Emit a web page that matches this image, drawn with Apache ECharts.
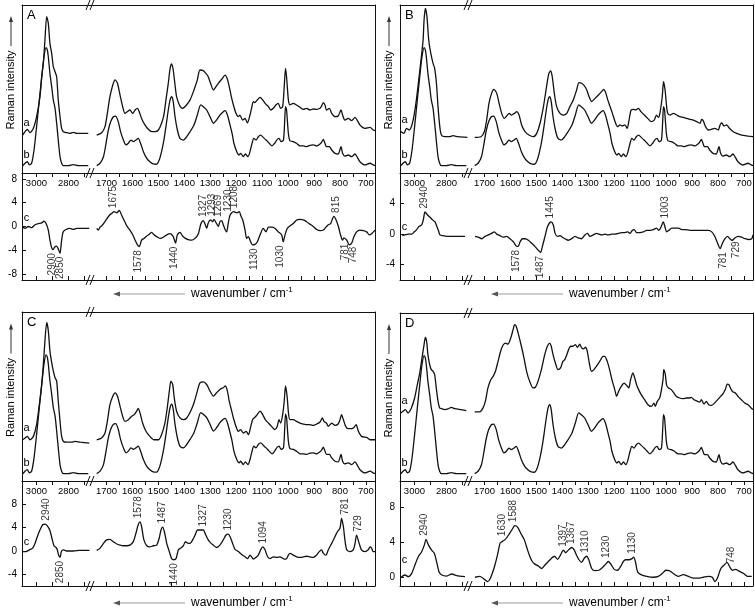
<!DOCTYPE html>
<html><head><meta charset="utf-8">
<script src="https://cdn.jsdelivr.net/npm/echarts@6/dist/echarts.min.js"></script>
<style>html,body{margin:0;padding:0;background:#fff}#c{width:755px;height:610px}</style>
</head><body><div id="c"></div>
<script>
// ---------- axis ticks / labels ----------
const highRange = [2660, 3090];
const lowRange = [665, 1760];
const highTicks = [3000, 2900, 2800, 2700];
const highLabels = [3000, 2800];
const lowTicks = [1700,1650,1600,1550,1500,1450,1400,1350,1300,1250,1200,1150,1100,1050,1000,950,900,850,800,750,700];
const lowLabels = [1700,1600,1500,1400,1300,1200,1100,1000,900,800,700];
const diffRangeA = [-9, 9], diffRangeB = [-6, 8], diffRangeC = [-6, 12], diffRangeD = [-1, 11];
const diffTicksA = [-8,-4,0,4,8], diffTicksB = [-4,0,4], diffTicksC = [-4,0,4,8], diffTicksD = [0,4,8];

// ---------- reference spectrum b (same in all panels) ----------
const b_high = [[3086,4.2],[3071,5.8],[3057,6.7],[3044,4.8],[3030,5.8],[3015,13.7],[2999,27.6],[2982,43.5],[2967,57.3],[2953,69.2],[2940,74.6],[2932,73.2],[2926,69.2],[2916,59.3],[2905,51.4],[2895,43.5],[2884,38.5],[2874,29.6],[2864,19.6],[2853,9.7],[2843,5.8],[2832,4.4],[2801,4.4],[2770,5.0],[2739,4.4],[2677,4.4]];
const b_low = [[1738,4.4],[1725,5.8],[1712,9.7],[1702,17.7],[1693,25.6],[1684,30.6],[1674,33.5],[1665,33.9],[1655,30.6],[1646,24.6],[1635,19.6],[1625,16.7],[1616,17.7],[1606,19.6],[1597,18.7],[1587,19.6],[1578,20.6],[1569,17.7],[1558,12.7],[1545,8.7],[1533,6.7],[1520,5.4],[1507,5.2],[1497,7.7],[1488,12.7],[1479,19.6],[1471,27.6],[1462,37.5],[1455,43.5],[1449,45.4],[1443,42.5],[1436,33.5],[1427,25.6],[1417,20.6],[1404,19.6],[1391,21.6],[1378,24.6],[1363,28.6],[1350,34.5],[1337,40.5],[1327,39.5],[1314,37.5],[1301,33.5],[1288,29.6],[1276,31.5],[1263,34.5],[1250,36.5],[1243,37.1],[1234,34.5],[1224,28.6],[1216,23.6],[1209,17.7],[1198,12.7],[1189,10.7],[1183,11.7],[1173,9.7],[1165,11.3],[1155,9.7],[1147,12.7],[1139,17.7],[1132,20.6],[1124,19.6],[1115,21.6],[1106,22.6],[1096,21.2],[1085,19.6],[1073,17.7],[1062,16.1],[1052,17.7],[1044,19.6],[1035,20.6],[1027,18.7],[1018,19.6],[1013,31.5],[1010,39.5],[1006,37.5],[999,23.6],[993,19.2],[980,18.7],[968,17.7],[954,16.1],[941,16.1],[929,15.7],[916,16.5],[903,16.7],[890,16.1],[877,17.3],[871,18.3],[864,20.0],[858,17.7],[852,15.7],[841,15.7],[832,13.7],[819,11.7],[807,11.3],[796,15.7],[790,11.7],[781,10.1],[768,10.7],[755,9.7],[742,11.3],[733,9.3],[723,6.7],[704,4.8],[684,5.8],[672,4.8],[665,4.4]];

// ---------- panel A ----------
const A_a_high = [[3086,22.6],[3071,24.6],[3057,26.0],[3040,24.0],[3019,26.6],[2999,33.5],[2978,45.4],[2967,57.3],[2957,65.3],[2947,79.2],[2936,93.1],[2926,89.1],[2916,77.2],[2905,71.2],[2895,63.3],[2884,60.3],[2874,57.3],[2864,43.5],[2853,33.5],[2843,26.6],[2832,24.6],[2812,24.0],[2791,23.6],[2770,24.2],[2749,23.6],[2677,23.6]];
const A_a_low = [[1738,22.6],[1719,24.0],[1706,27.6],[1697,35.5],[1687,45.4],[1676,52.4],[1667,55.4],[1658,53.4],[1648,46.4],[1638,39.5],[1629,35.5],[1620,36.5],[1610,37.5],[1599,35.5],[1590,37.5],[1581,38.5],[1574,36.5],[1565,32.5],[1552,28.6],[1539,26.0],[1526,24.6],[1513,24.6],[1500,25.6],[1488,29.6],[1479,34.5],[1471,43.5],[1462,53.4],[1455,62.3],[1449,64.9],[1443,61.3],[1436,52.4],[1430,45.4],[1419,40.5],[1408,38.5],[1395,39.9],[1378,43.5],[1363,49.4],[1350,55.4],[1340,61.3],[1327,60.9],[1317,59.3],[1308,57.3],[1299,53.4],[1288,49.4],[1278,51.4],[1269,53.4],[1256,55.8],[1243,58.3],[1234,55.8],[1227,51.4],[1219,45.4],[1211,40.5],[1201,35.5],[1192,33.5],[1186,34.5],[1175,31.5],[1166,32.5],[1157,29.8],[1147,34.5],[1141,38.5],[1134,42.5],[1128,41.9],[1119,43.5],[1108,45.0],[1098,43.5],[1087,41.1],[1076,39.5],[1067,37.5],[1057,38.5],[1047,40.5],[1038,41.5],[1029,38.5],[1021,39.5],[1015,51.4],[1010,62.3],[1006,57.3],[999,43.5],[993,40.5],[980,41.5],[968,40.5],[954,39.1],[941,37.9],[929,38.5],[916,37.5],[903,38.1],[890,37.9],[877,38.5],[871,39.9],[864,41.9],[858,40.5],[852,37.5],[841,38.5],[832,35.5],[819,33.5],[807,33.9],[796,37.5],[790,34.5],[781,31.5],[768,32.5],[755,31.2],[742,33.1],[733,31.2],[723,28.6],[704,26.6],[684,27.2],[672,25.6],[665,25.2]];
const A_c_high = [[3086,-0.1],[3071,-0.3],[3051,0.0],[3030,-0.2],[3009,0.3],[2988,0.5],[2967,0.6],[2953,0.9],[2940,0.5],[2926,-0.6],[2916,-2.3],[2905,-3.6],[2897,-3.9],[2887,-3.5],[2875,-3.3],[2862,-3.9],[2853,-4.5],[2843,-2.3],[2833,-0.9],[2816,-0.5],[2791,-0.3],[2770,-0.5],[2749,-0.3],[2671,-0.3]];
const A_c_low = [[1738,-0.3],[1732,-0.6],[1725,-0.1],[1715,0.3],[1702,1.1],[1689,1.9],[1680,2.2],[1671,2.5],[1661,2.3],[1651,2.7],[1642,1.9],[1633,1.1],[1622,0.1],[1610,-0.6],[1599,-1.4],[1590,-2.3],[1581,-3.1],[1574,-3.4],[1565,-2.3],[1556,-2.0],[1545,-1.6],[1535,-1.3],[1526,-1.0],[1517,-1.4],[1507,-1.7],[1494,-2.0],[1481,-1.8],[1468,-1.4],[1455,-1.2],[1443,-1.7],[1434,-2.8],[1427,-1.4],[1417,-1.0],[1407,-1.6],[1396,-2.0],[1385,-2.2],[1372,-2.3],[1359,-2.0],[1346,-1.2],[1336,0.5],[1327,1.0],[1321,0.5],[1314,-0.3],[1308,0.6],[1299,1.1],[1291,0.8],[1286,1.2],[1276,0.5],[1269,0.0],[1263,0.8],[1256,1.0],[1250,0.3],[1243,-0.5],[1237,-0.9],[1231,0.5],[1224,1.9],[1211,2.5],[1198,2.3],[1188,2.5],[1183,1.9],[1175,1.1],[1166,-0.6],[1160,-2.0],[1153,-1.7],[1147,-2.3],[1137,-3.1],[1128,-3.0],[1119,-2.6],[1108,-1.4],[1096,-0.3],[1085,-0.9],[1076,-0.1],[1064,-0.1],[1051,-0.3],[1038,-0.9],[1025,-1.4],[1019,-2.6],[1012,-1.4],[1003,-0.3],[993,0.1],[980,0.5],[967,1.1],[954,1.2],[941,1.1],[929,0.8],[916,0.4],[903,0.0],[890,-0.5],[877,-0.7],[864,-0.6],[854,-0.1],[845,0.3],[836,0.5],[828,1.4],[823,1.7],[815,1.1],[806,0.0],[798,-1.4],[790,-2.3],[785,-1.9],[774,-2.3],[764,-3.1],[755,-2.8],[746,-1.7],[736,-0.9],[723,-0.6],[710,-0.7],[697,-0.9],[687,-1.4],[678,-1.2],[665,-0.6]];
const A_peaks_up = [1675,1327,1293,1269,1230,1208,815];
const A_peaks_down = [2900,2850,1578,1440,1130,1030,781,748];

// ---------- panel B ----------
const B_a_high = [[3086,24.6],[3065,23.6],[3050,26.6],[3033,25.6],[3019,27.6],[3002,34.5],[2988,43.5],[2971,57.3],[2957,69.2],[2946,79.2],[2940,91.1],[2932,98.0],[2922,93.1],[2911,79.2],[2898,71.2],[2884,65.3],[2874,62.3],[2863,53.4],[2853,39.5],[2842,27.6],[2832,22.6],[2811,21.6],[2780,21.6],[2759,22.2],[2728,21.6],[2670,21.2]];
const B_a_low = [[1738,21.2],[1714,21.6],[1701,24.6],[1692,31.5],[1683,41.5],[1673,47.4],[1664,49.8],[1653,47.4],[1644,41.5],[1634,35.5],[1624,32.5],[1615,33.9],[1605,35.5],[1596,34.5],[1585,35.5],[1576,36.5],[1567,34.5],[1557,28.6],[1544,24.6],[1529,22.6],[1512,21.6],[1499,23.6],[1486,29.6],[1473,39.5],[1461,51.4],[1452,59.3],[1445,60.7],[1439,57.3],[1431,47.4],[1422,39.5],[1409,35.5],[1396,34.5],[1383,35.5],[1371,39.5],[1358,43.5],[1345,49.4],[1336,53.8],[1326,53.4],[1315,51.8],[1306,49.4],[1297,45.4],[1287,42.5],[1274,44.4],[1261,46.4],[1249,48.4],[1241,49.8],[1233,47.8],[1225,43.5],[1216,39.5],[1207,35.5],[1197,30.6],[1187,27.6],[1178,28.6],[1169,28.0],[1159,28.6],[1150,26.6],[1143,31.5],[1135,37.5],[1126,37.9],[1117,37.5],[1107,38.5],[1097,36.5],[1084,34.5],[1071,32.5],[1058,30.6],[1046,31.5],[1037,34.5],[1030,33.1],[1024,35.5],[1015,45.4],[1010,54.4],[1004,49.4],[998,39.5],[994,35.5],[985,34.5],[972,35.5],[959,34.5],[947,33.5],[934,33.1],[921,32.5],[908,31.9],[895,31.5],[882,30.6],[869,29.6],[863,31.9],[857,31.2],[848,27.6],[837,25.6],[825,26.0],[812,26.6],[799,25.6],[792,28.6],[786,30.0],[777,28.0],[767,28.6],[756,26.6],[741,24.6],[728,23.6],[709,22.6],[683,22.0],[665,21.6]];
const B_c_high = [[3075,-0.2],[3059,-0.1],[3038,0.0],[3017,0.0],[3001,0.3],[2986,0.6],[2972,1.0],[2955,1.2],[2945,1.85],[2934,2.9],[2918,2.5],[2903,2.2],[2889,1.9],[2872,1.6],[2862,1.1],[2851,0.5],[2841,-0.1],[2820,-0.2],[2789,-0.3],[2727,-0.3],[2685,-0.3]];
const B_c_low = [[1737,-0.3],[1724,-0.4],[1711,-0.6],[1698,-0.3],[1685,-0.1],[1673,0.1],[1662,0.3],[1653,0.0],[1640,-0.2],[1628,-0.4],[1615,-0.3],[1602,-0.6],[1589,-1.0],[1576,-1.6],[1570,-1.6],[1563,-1.0],[1554,-0.6],[1544,-0.6],[1531,-0.8],[1518,-1.2],[1506,-1.6],[1493,-2.1],[1484,-2.4],[1477,-1.6],[1467,-0.3],[1457,1.0],[1444,1.6],[1435,1.2],[1428,0.1],[1418,-0.3],[1409,-0.2],[1400,-0.4],[1390,-0.6],[1377,-0.8],[1364,-0.6],[1351,-0.3],[1339,-0.5],[1326,-0.6],[1313,-0.1],[1303,0.1],[1294,-0.3],[1281,-0.1],[1268,0.1],[1259,0.0],[1249,-0.1],[1236,0.0],[1223,-0.1],[1210,0.0],[1197,0.0],[1184,0.1],[1171,0.2],[1159,0.2],[1148,0.3],[1139,0.1],[1130,0.5],[1123,0.6],[1114,0.2],[1101,0.2],[1088,0.3],[1075,0.5],[1062,0.5],[1049,0.6],[1037,0.8],[1028,0.5],[1020,0.9],[1011,1.6],[1004,0.9],[998,0.3],[989,0.5],[979,0.8],[966,0.8],[953,0.8],[940,0.6],[927,0.6],[908,0.5],[889,0.5],[869,0.5],[850,0.5],[837,0.5],[824,0.3],[812,-0.3],[799,-1.4],[792,-1.9],[783,-1.2],[773,-0.6],[763,-0.3],[754,-0.6],[745,-0.8],[735,-0.5],[722,-0.3],[709,-0.4],[696,-0.6],[683,-0.7],[670,-0.6],[665,-0.1]];
const B_peaks_up = [2940,1445,1003];
const B_peaks_down = [1578,1487,781,729];

// ---------- panel C ----------
const C_a_high = [[3086,24.4],[3071,25.4],[3057,26.4],[3040,24.4],[3019,26.4],[2999,33.3],[2982,45.2],[2967,57.1],[2957,69.0],[2947,82.9],[2936,93.8],[2926,88.9],[2916,77.0],[2905,70.0],[2895,65.1],[2884,61.1],[2874,59.1],[2864,47.2],[2853,35.3],[2843,26.4],[2832,23.4],[2812,23.0],[2781,23.0],[2760,23.4],[2729,23.0],[2671,22.4]];
const C_a_low = [[1738,24.4],[1719,25.4],[1706,28.4],[1697,35.3],[1687,45.2],[1676,50.2],[1667,52.2],[1658,50.2],[1648,44.2],[1638,38.3],[1629,35.3],[1616,36.3],[1603,38.3],[1593,39.3],[1584,41.3],[1578,42.9],[1571,40.3],[1561,34.3],[1548,29.4],[1533,26.4],[1517,24.4],[1500,24.4],[1488,27.4],[1475,34.3],[1466,43.3],[1458,53.2],[1452,59.1],[1445,57.1],[1439,49.2],[1430,41.3],[1417,37.3],[1404,36.3],[1391,37.3],[1376,41.3],[1363,46.2],[1350,53.2],[1340,58.1],[1327,58.7],[1314,57.1],[1301,53.2],[1288,50.2],[1276,52.2],[1263,54.2],[1250,55.2],[1242,56.2],[1234,53.2],[1227,47.2],[1219,42.3],[1211,37.3],[1201,32.3],[1192,29.4],[1183,30.4],[1173,28.4],[1162,29.4],[1153,27.4],[1144,32.3],[1137,36.3],[1128,37.7],[1119,39.3],[1108,41.3],[1098,39.3],[1088,36.3],[1076,34.3],[1064,32.3],[1051,30.4],[1042,32.3],[1035,36.3],[1029,34.3],[1021,39.3],[1015,47.2],[1010,56.2],[1004,50.2],[998,39.3],[993,36.3],[980,36.3],[968,35.3],[954,34.3],[941,33.7],[929,33.3],[916,33.3],[903,32.9],[890,33.7],[877,34.9],[868,37.3],[862,35.3],[852,34.3],[845,32.3],[832,34.3],[819,32.9],[807,33.7],[800,36.3],[794,39.3],[787,36.3],[778,32.3],[768,31.0],[755,31.0],[746,31.7],[738,33.3],[729,29.4],[717,26.4],[697,25.8],[684,24.4],[665,24.4]];
const C_c_high = [[3086,-0.1],[3065,-0.1],[3044,0.2],[3024,0.5],[3009,1.3],[2994,2.5],[2978,3.6],[2961,4.5],[2947,4.6],[2932,4.3],[2916,3.5],[2901,1.9],[2891,0.9],[2878,0.6],[2870,0.2],[2862,-0.7],[2853,-1.1],[2845,-0.1],[2832,0.2],[2812,0.0],[2770,0.0],[2729,0.1],[2670,0.1]];
const C_c_low = [[1738,0.1],[1725,0.5],[1712,1.3],[1700,1.9],[1687,2.0],[1674,1.6],[1661,1.2],[1648,1.0],[1635,0.9],[1622,0.9],[1610,1.0],[1597,1.6],[1587,3.0],[1578,4.5],[1571,5.0],[1565,4.2],[1556,1.9],[1545,0.9],[1533,0.7],[1520,0.9],[1507,1.0],[1497,2.2],[1490,3.6],[1484,4.1],[1477,3.3],[1468,1.3],[1458,-0.1],[1449,-1.3],[1440,-1.5],[1432,-1.3],[1423,0.2],[1414,0.5],[1404,0.9],[1396,1.6],[1389,1.4],[1378,1.3],[1368,1.9],[1359,2.7],[1349,3.6],[1333,3.6],[1327,3.6],[1317,2.7],[1308,1.9],[1299,1.4],[1288,1.0],[1276,0.6],[1263,1.0],[1250,1.9],[1240,2.7],[1231,2.9],[1224,2.5],[1214,1.3],[1205,0.3],[1192,-0.1],[1179,-0.6],[1166,-1.0],[1156,-1.3],[1147,-0.7],[1141,-1.0],[1134,-1.4],[1124,-1.1],[1115,-0.7],[1106,0.2],[1098,0.7],[1089,0.2],[1080,-0.9],[1070,-1.3],[1057,-1.0],[1044,-1.1],[1031,-1.0],[1019,-1.3],[1008,-1.4],[999,-0.7],[993,-0.4],[980,-0.7],[967,-1.0],[954,-1.1],[941,-1.0],[929,-0.9],[916,-1.0],[903,-1.1],[890,-0.7],[880,-0.1],[871,0.2],[864,-0.4],[854,-0.7],[845,0.2],[832,1.3],[819,2.5],[810,3.3],[800,3.9],[794,5.6],[787,4.2],[781,1.9],[774,0.2],[762,-0.1],[749,0.2],[742,1.3],[736,2.7],[726,1.3],[717,0.2],[704,-0.1],[691,0.2],[684,0.7],[678,0.5],[672,-0.1],[665,-0.1]];
const C_peaks_up = [2940,1578,1487,1327,1230,1094,781,729];
const C_peaks_down = [2850,1440];

// ---------- panel D ----------
const D_a_high = [[3086,40.5],[3071,41.5],[3057,42.5],[3040,40.5],[3019,43.5],[2999,49.4],[2982,57.3],[2967,64.3],[2953,73.2],[2940,81.2],[2932,85.5],[2924,83.1],[2916,75.2],[2905,69.2],[2895,66.3],[2884,65.3],[2874,63.3],[2864,55.4],[2853,47.4],[2843,43.5],[2832,43.1],[2812,42.5],[2791,42.9],[2770,43.8],[2749,43.1],[2677,41.9]];
const D_a_low = [[1738,41.1],[1719,41.1],[1706,43.5],[1697,47.4],[1687,55.4],[1676,60.3],[1667,62.3],[1658,65.3],[1648,71.2],[1638,77.2],[1629,80.8],[1620,82.1],[1610,81.5],[1599,85.1],[1590,90.1],[1584,93.1],[1578,92.1],[1569,87.1],[1558,80.2],[1548,73.2],[1538,65.3],[1526,59.3],[1513,55.4],[1504,55.8],[1494,59.3],[1481,66.3],[1468,75.2],[1458,80.2],[1449,82.1],[1443,80.2],[1436,75.2],[1427,70.2],[1417,66.3],[1407,67.3],[1398,71.2],[1391,72.2],[1385,74.2],[1376,78.2],[1368,80.2],[1359,80.2],[1350,81.2],[1342,79.6],[1333,81.5],[1327,79.6],[1319,78.6],[1311,79.6],[1304,77.2],[1295,69.2],[1288,65.3],[1278,66.3],[1269,68.3],[1256,71.2],[1243,74.2],[1237,74.2],[1227,71.2],[1218,66.3],[1209,60.3],[1198,54.4],[1191,50.4],[1183,53.4],[1173,56.3],[1162,58.3],[1152,56.9],[1144,55.4],[1137,60.3],[1128,64.3],[1121,61.3],[1114,57.3],[1106,54.4],[1096,51.4],[1083,48.4],[1070,45.4],[1057,44.4],[1047,46.4],[1042,44.4],[1034,47.4],[1025,49.4],[1019,53.4],[1012,60.3],[1009,66.3],[1003,63.3],[998,56.9],[991,55.4],[980,54.4],[970,52.4],[961,50.4],[948,49.4],[935,49.0],[922,49.4],[909,49.4],[903,49.8],[893,48.4],[884,47.8],[871,47.0],[864,48.4],[854,45.8],[845,47.4],[836,45.4],[826,45.0],[813,46.4],[801,48.4],[790,50.4],[781,51.8],[772,54.4],[764,57.7],[758,57.3],[749,54.4],[742,53.0],[733,52.4],[723,50.4],[710,48.4],[697,46.4],[684,45.4],[672,43.5],[665,42.5]];
const D_c_high = [[3084,0.0],[3059,0.26],[3038,0.07],[3017,0.45],[2997,1.4],[2976,2.35],[2955,2.92],[2938,3.7],[2928,4.33],[2913,3.7],[2893,3.1],[2876,2.73],[2862,1.78],[2847,0.64],[2830,0.26],[2799,0.14],[2768,0.37],[2737,0.18],[2685,0.07]];
const D_c_low = [[1737,0.0],[1718,0.1],[1698,-0.3],[1688,-0.5],[1679,-0.2],[1670,0.45],[1660,1.4],[1649,2.7],[1640,3.9],[1631,4.1],[1621,4.3],[1608,4.8],[1595,5.4],[1583,5.9],[1572,5.7],[1560,5.0],[1547,4.3],[1534,3.1],[1525,2.35],[1516,1.8],[1506,1.5],[1493,1.3],[1480,1.0],[1467,1.4],[1454,1.8],[1441,2.2],[1431,2.4],[1418,2.05],[1408,2.5],[1396,3.1],[1387,2.8],[1377,3.1],[1364,3.4],[1354,3.1],[1345,2.5],[1336,2.0],[1326,1.7],[1315,2.2],[1306,2.4],[1297,1.9],[1287,1.0],[1274,0.75],[1259,0.8],[1246,1.1],[1233,1.5],[1223,1.8],[1213,1.5],[1200,0.9],[1187,0.8],[1174,1.3],[1165,1.8],[1156,2.0],[1143,2.0],[1133,2.1],[1125,2.3],[1117,1.6],[1110,0.6],[1097,0.3],[1075,0.1],[1049,0.0],[1030,0.1],[1014,0.45],[1001,0.8],[988,0.75],[971,0.4],[953,0.1],[934,0.3],[914,0.1],[895,-0.1],[876,-0.1],[857,0.0],[837,0.1],[822,0.0],[812,-0.5],[801,0.0],[789,1.0],[773,1.5],[765,1.7],[755,1.2],[745,0.8],[732,0.9],[719,0.7],[702,0.45],[686,0.1],[670,0.1]];
const D_peaks_up = [2940,1630,1588,1397,1367,1310,1230,1130,748];
const D_peaks_down = [];

// ---------- layout (pixels) ----------
const FONT = '"Liberation Sans", Arial, Helvetica, sans-serif';
const INK = '#111';
const panels = [
  {name:'A', L:22,  T:5,   D:173, B:280, ax:14, a_high:A_a_high, a_low:A_a_low, c_high:A_c_high, c_low:A_c_low, up:A_peaks_up, down:A_peaks_down, yr:diffRangeA, yt:diffTicksA, cOff:9},
  {name:'B', L:400, T:5,   D:173, B:280, ax:14, a_high:B_a_high, a_low:B_a_low, c_high:B_c_high, c_low:B_c_low, up:B_peaks_up, down:B_peaks_down, yr:diffRangeB, yt:diffTicksB, cOff:9},
  {name:'C', L:22,  T:312, D:481, B:586, ax:17, a_high:C_a_high, a_low:C_a_low, c_high:C_c_high, c_low:C_c_low, up:C_peaks_up, down:C_peaks_down, yr:diffRangeC, yt:diffTicksC, cOff:10},
  {name:'D', L:400, T:313, D:481, B:586, ax:17, a_high:D_a_high, a_low:D_a_low, c_high:D_c_high, c_low:D_c_low, up:D_peaks_up, down:D_peaks_down, yr:diffRangeD, yt:diffTicksD, cOff:17}
];
const WL = 69, WR = 284;
const plain = v => String(v);

function interp(data, w) {
  for (let i = 0; i < data.length - 1; i++) {
    const [x0,y0] = data[i], [x1,y1] = data[i+1];
    if ((w <= x0 && w >= x1) || (w >= x0 && w <= x1)) {
      return x0 === x1 ? y0 : y0 + (y1 - y0) * (w - x0) / (x1 - x0);
    }
  }
  return data[0][1];
}
function extremeNear(data, w, up) {
  let best = interp(data, w);
  for (const [x,y] of data) if (Math.abs(x - w) <= 13) best = up ? Math.max(best, y) : Math.min(best, y);
  return best;
}

const grids = [], xAxes = [], yAxes = [], series = [];
const lineAxis = {show:true, onZero:false, lineStyle:{color:INK, width:1}};

panels.forEach((P) => {
  P.idx = {};
  const segs = [
    {left:P.L, width:WL, range:highRange, ticks:highTicks, labels:highLabels, a:P.a_high, b:b_high, c:P.c_high},
    {left:P.L+WL, width:WR, range:lowRange, ticks:lowTicks, labels:lowLabels, a:P.a_low, b:b_low, c:P.c_low}
  ];
  segs.forEach((S, s) => {
    const gu = grids.length;
    grids.push({left:S.left, top:P.T, width:S.width, height:P.D-P.T, containLabel:false, outerBoundsMode:'none'});
    const xu = xAxes.length;
    xAxes.push({type:'value', gridIndex:gu, position:'top', inverse:true, min:S.range[0], max:S.range[1],
      axisLine:lineAxis, axisTick:{show:false}, axisLabel:{show:false}, splitLine:{show:false}});
    const yu = yAxes.length;
    yAxes.push({type:'value', gridIndex:gu, position: s===0?'left':'right', min:0, max:100,
      axisLine:lineAxis, axisTick:{show:false}, axisLabel:{show:false}, splitLine:{show:false}});
    ['a','b'].forEach(k => series.push({type:'line', xAxisIndex:xu, yAxisIndex:yu, data:S[k], symbol:'none', smooth:0.25,
      lineStyle:{color:INK, width:1.3}, silent:true, animation:false}));
    P.idx['u'+s] = gu;
    const gl = grids.length;
    grids.push({left:S.left, top:P.D, width:S.width, height:P.B-P.D, containLabel:false, outerBoundsMode:'none'});
    const xl = xAxes.length;
    xAxes.push({type:'value', gridIndex:gl, position:'top', inverse:true, min:S.range[0], max:S.range[1],
      axisLine:lineAxis,
      axisTick:{show:true, inside:true, length:4, customValues:S.ticks, lineStyle:{color:INK}},
      axisLabel:{show:true, inside:true, margin:5, customValues:S.labels, formatter:plain, color:'#000', fontSize:9.5, fontFamily:FONT},
      splitLine:{show:false}});
    xAxes.push({type:'value', gridIndex:gl, position:'bottom', inverse:true, min:S.range[0], max:S.range[1],
      axisLine:lineAxis,
      axisTick:{show:true, inside:true, length:4, customValues:S.ticks, lineStyle:{color:INK}},
      axisLabel:{show:false}, splitLine:{show:false}});
    const yl = yAxes.length;
    yAxes.push(s===0 ? {type:'value', gridIndex:gl, position:'left', min:P.yr[0], max:P.yr[1],
      axisLine:lineAxis,
      axisTick:{show:true, inside:true, length:4, customValues:P.yt, lineStyle:{color:INK}},
      axisLabel:{show:true, margin:5, customValues:P.yt, formatter:plain, color:'#000', fontSize:10, fontFamily:FONT},
      splitLine:{show:false}}
      : {type:'value', gridIndex:gl, position:'right', min:P.yr[0], max:P.yr[1],
      axisLine:lineAxis, axisTick:{show:false}, axisLabel:{show:false}, splitLine:{show:false}});
    series.push({type:'line', xAxisIndex:xl, yAxisIndex:yl, data:S.c, symbol:'none', smooth:0.25,
      lineStyle:{color:INK, width:1.3}, silent:true, animation:false});
    P.idx['l'+s] = gl;
    const inSeg = w => (s === 0 ? w > 2000 : w < 2000);
    const ann = [];
    P.up.filter(inSeg).forEach(w => ann.push({value:[w, extremeNear(S.c, w, true)],
      label:{show:true, formatter:String(w), position:'top', distance:3, rotate:90, align:'left', verticalAlign:'middle'}}));
    P.down.filter(inSeg).forEach(w => ann.push({value:[w, extremeNear(S.c, w, false)],
      label:{show:true, formatter:String(w), position:'bottom', distance:3, rotate:90, align:'right', verticalAlign:'middle'}}));
    if (ann.length) series.push({type:'scatter', xAxisIndex:xl, yAxisIndex:yl, data:ann, symbolSize:1,
      itemStyle:{color:'rgba(0,0,0,0)'}, label:{color:'#000', fontSize:10, fontFamily:FONT}, silent:true, animation:false, clip:false});
  });
});

const chart = echarts.init(document.getElementById('c'), null, {renderer:'canvas'});
chart.setOption({animation:false, backgroundColor:'#fff', grid:grids, xAxis:xAxes, yAxis:yAxes, series:series, tooltip:{show:false}});

const gfx = [];
function txt(x, y, text, size, opts) {
  return Object.assign({type:'text', x, y, silent:true, style:Object.assign({text, fill:'#000', font: size+'px '+FONT,
    textAlign:'center', textVerticalAlign:'middle', align:'center', verticalAlign:'middle'}, (opts&&opts.style)||{})},
    opts && opts.rotation ? {rotation:opts.rotation} : {});
}
panels.forEach(P => {
  gfx.push(txt(P.L + 5, P.T + 10, P.name, 13, {style:{textAlign:'left', align:'left'}}));
  const cy = (P.T + P.D) / 2 + 1;
  gfx.push(txt(P.L - 11, cy, 'Raman intensity', 11, {rotation:Math.PI/2}));
  const ax = P.L - 11, yTop = cy - 74, yBot = cy - 44;
  gfx.push({type:'line', silent:true, shape:{x1:ax, y1:yBot, x2:ax, y2:yTop+4}, style:{stroke:'#333', lineWidth:1}});
  gfx.push({type:'polygon', silent:true, shape:{points:[[ax, yTop],[ax-2, yTop+6],[ax+2, yTop+6]]}, style:{fill:'#333'}});
  const yx = P.B + P.ax;
  const x1 = P.L + 91, x2 = P.L + 163;
  gfx.push({type:'line', silent:true, shape:{x1:x1+4, y1:yx, x2:x2, y2:yx}, style:{stroke:'#999', lineWidth:1.2}});
  gfx.push({type:'polygon', silent:true, shape:{points:[[x1, yx],[x1+7, yx-2.5],[x1+7, yx+2.5]]}, style:{fill:'#555'}});
  gfx.push({type:'text', silent:true, x:P.L + 169, y:yx, style:{text:'wavenumber / cm{s|-1}', fill:'#000', font:'12px '+FONT,
    textAlign:'left', align:'left', textVerticalAlign:'middle', verticalAlign:'middle',
    rich:{s:{fontSize:8, fontFamily:FONT, fill:'#000', verticalAlign:'top', padding:[0,0,8,0]}}}});
  const bx = P.L + WL;
  [P.T, P.D, P.B].forEach(y => {
    gfx.push({type:'rect', silent:true, shape:{x:bx-4, y:y-1, width:6, height:2}, style:{fill:'#fff'}});
    gfx.push({type:'line', silent:true, shape:{x1:bx-5, y1:y+5, x2:bx-1, y2:y-5}, style:{stroke:INK, lineWidth:1}});
    gfx.push({type:'line', silent:true, shape:{x1:bx-1, y1:y+5, x2:bx+3, y2:y-5}, style:{stroke:INK, lineWidth:1}});
  });
  const pa = chart.convertToPixel({gridIndex:P.idx.u0}, [P.a_high[0][0], P.a_high[0][1]]);
  const pb = chart.convertToPixel({gridIndex:P.idx.u0}, [b_high[0][0], b_high[0][1]]);
  const pc = chart.convertToPixel({gridIndex:P.idx.l0}, [P.c_high[0][0], P.c_high[0][1]]);
  gfx.push(txt(P.L + 4.5, pa[1] - 12, 'a', 11));
  gfx.push(txt(P.L + 4.5, pb[1] - 11, 'b', 11));
  gfx.push(txt(P.L + 4.5, pc[1] - P.cOff, 'c', 11));
});
chart.setOption({graphic:{elements:gfx}});
</script></body></html>
